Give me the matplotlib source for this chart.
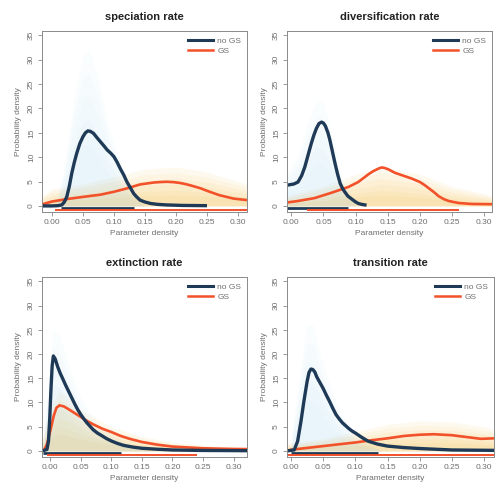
import matplotlib
matplotlib.use("Agg")
import matplotlib.pyplot as plt
from matplotlib.lines import Line2D

plt.rcParams['font.family'] = ['Liberation Sans', 'DejaVu Sans']

NAVY = '#1f3a56'
RED = '#f2512a'
HAZE_BLUE = '#a8d8f2'
HAZE_ORANGE = '#f7bf3e'
GREY = '#6f6f6f'

titles = ['speciation rate', 'diversification rate', 'extinction rate', 'transition rate']

# no GS curves
sp_nogs_x = [-0.016, 0.0, 0.01, 0.016, 0.02, 0.024, 0.028, 0.032, 0.036, 0.04, 0.045, 0.05,
             0.054, 0.058, 0.062, 0.067, 0.072, 0.078, 0.084, 0.089, 0.095,
             0.10, 0.105, 0.11, 0.116, 0.121, 0.127, 0.132, 0.137, 0.142, 0.15, 0.159, 0.17,
             0.185, 0.21, 0.25]
sp_nogs_y = [0.0, 0.0, 0.05, 0.2, 0.8, 1.9, 4.0, 6.7, 8.9, 10.8, 12.8, 14.2,
             15.0, 15.4, 15.3, 14.9, 14.1, 13.2, 12.3, 11.5, 10.8,
             10.1, 9.0, 7.7, 6.3, 4.9, 3.6, 2.5, 1.8, 1.2, 0.8, 0.5, 0.32,
             0.2, 0.1, 0.05]
div_nogs_x = [-0.0067, 0.004, 0.0104, 0.016, 0.021, 0.026, 0.031, 0.035, 0.039, 0.043, 0.047,
              0.05, 0.053, 0.057, 0.06, 0.064, 0.068, 0.072, 0.076, 0.08, 0.083,
              0.088, 0.094, 0.099, 0.104, 0.11, 0.117]
div_nogs_y = [4.25, 4.5, 4.9, 6.2, 8.0, 10.4, 12.8, 14.5, 15.9, 16.9, 17.2,
              17.0, 16.4, 15.0, 13.5, 11.1, 8.7, 6.5, 4.6, 3.5, 2.9,
              2.0, 1.4, 0.9, 0.5, 0.3, 0.15]
ext_nogs_x = [-0.0136, -0.0055, -0.003, -0.001, 0.001, 0.003, 0.005, 0.008, 0.012, 0.016,
              0.02, 0.025, 0.03, 0.035, 0.04, 0.045, 0.05, 0.055, 0.06, 0.065, 0.07,
              0.077, 0.085, 0.092, 0.10, 0.11, 0.12, 0.135, 0.15, 0.175, 0.20, 0.25, 0.322]
ext_nogs_y = [0.0, 0.3, 2.0, 6.5, 12.5, 17.5, 19.6, 19.0, 17.4, 16.1,
              15.0, 13.6, 12.3, 11.0, 9.7, 8.5, 7.5, 6.6, 5.8, 5.1, 4.4,
              3.7, 3.1, 2.55, 2.05, 1.55, 1.15, 0.8, 0.55, 0.35, 0.2, 0.1, 0.05]
tr_nogs_x = [-0.0062, 0.005, 0.0103, 0.0155, 0.02, 0.025, 0.028, 0.031, 0.034, 0.037, 0.04,
             0.045, 0.05, 0.055, 0.06, 0.065, 0.07, 0.075, 0.08, 0.085, 0.09, 0.095,
             0.10, 0.11, 0.12, 0.135, 0.15, 0.175, 0.20, 0.25, 0.3155]
tr_nogs_y = [0.0, 0.2, 2.0, 6.1, 10.2, 14.3, 16.2, 16.9, 16.8, 16.3, 15.3,
             14.1, 12.9, 11.5, 10.2, 8.8, 7.5, 6.6, 5.8, 5.2, 4.6, 4.1,
             3.7, 2.8, 2.0, 1.4, 1.0, 0.7, 0.5, 0.2, 0.12]

# GS curves
sp_gs_x = [-0.016, 0.0, 0.024, 0.05, 0.078, 0.10, 0.121, 0.142, 0.164, 0.175, 0.185, 0.196,
           0.207, 0.218, 0.228, 0.24, 0.25, 0.27, 0.293, 0.3145]
sp_gs_y = [0.3, 0.9, 1.4, 1.85, 2.3, 2.9, 3.6, 4.4, 4.8, 4.9, 4.95, 4.88,
           4.7, 4.4, 4.05, 3.6, 3.1, 2.2, 1.5, 1.2]
div_gs_x = [-0.0067, 0.01, 0.036, 0.0625, 0.089, 0.104, 0.112, 0.12, 0.127, 0.133, 0.137, 0.141,
            0.146, 0.151, 0.161, 0.172, 0.1875, 0.2, 0.207, 0.214, 0.222, 0.229, 0.237,
            0.245, 0.26, 0.28, 0.312]
div_gs_y = [0.7, 1.0, 1.6, 2.7, 3.9, 4.9, 5.7, 6.5, 7.1, 7.5, 7.75, 7.9,
            7.75, 7.5, 6.8, 6.3, 5.6, 4.9, 4.3, 3.6, 2.8, 2.0, 1.4,
            1.0, 0.6, 0.4, 0.35]
ext_gs_x = [-0.011, -0.0055, 0.0, 0.0055, 0.01, 0.015, 0.022, 0.03, 0.04, 0.05, 0.06, 0.07,
            0.085, 0.10, 0.115, 0.13, 0.15, 0.175, 0.20, 0.25, 0.30, 0.322]
ext_gs_y = [0.0, 1.4, 4.1, 7.2, 8.9, 9.4, 9.2, 8.6, 7.8, 7.0, 6.2, 5.5,
            4.6, 3.9, 3.1, 2.5, 1.85, 1.3, 0.9, 0.55, 0.4, 0.38]
tr_gs_x = [-0.0062, 0.0103, 0.05, 0.10, 0.125, 0.15, 0.176, 0.20, 0.222, 0.25, 0.274, 0.295, 0.3155]
tr_gs_y = [0.1, 0.4, 1.0, 1.75, 2.2, 2.6, 3.1, 3.35, 3.45, 3.25, 2.85, 2.5, 2.6]

# upper envelopes of the posterior sample haze
sp_haze_b_x = [0.005, 0.02, 0.035, 0.05, 0.06, 0.075, 0.09, 0.11, 0.13, 0.15]
sp_haze_b_y = [0, 8, 22, 31, 32, 26, 17, 9, 3, 0]
sp_haze_o_x = [-0.016, 0.0, 0.05, 0.10, 0.15, 0.20, 0.25, 0.30, 0.3145]
sp_haze_o_y = [2, 3.5, 4.5, 6, 7.5, 8, 7, 5, 4.5]
div_haze_b_x = [-0.0067, 0.01, 0.025, 0.04, 0.05, 0.065, 0.08, 0.1]
div_haze_b_y = [7, 10, 17, 22, 21, 14, 5, 0]
div_haze_o_x = [-0.0067, 0.05, 0.10, 0.14, 0.20, 0.25, 0.30, 0.312]
div_haze_o_y = [2, 4, 6.5, 8, 6.5, 4, 2.5, 2]
ext_haze_b_x = [-0.0136, -0.004, 0.004, 0.015, 0.03, 0.05, 0.08, 0.12, 0.16]
ext_haze_b_y = [0, 14, 25, 24, 18, 11, 5, 2, 0]
ext_haze_o_x = [-0.0136, 0.0, 0.015, 0.03, 0.05, 0.10, 0.15, 0.20, 0.25, 0.322]
ext_haze_o_y = [2, 9, 12.5, 11, 8.5, 5, 3, 1.8, 1.2, 0.8]
tr_haze_b_x = [-0.002, 0.012, 0.024, 0.034, 0.05, 0.07, 0.10, 0.14]
tr_haze_b_y = [0, 14, 26, 26, 18, 10, 3, 0]
tr_haze_o_x = [-0.0062, 0.05, 0.10, 0.15, 0.20, 0.25, 0.30, 0.3155]
tr_haze_o_y = [1.5, 2.5, 4, 5.5, 6.2, 6, 5, 4.5]

# credible interval bars (start, end)
sp_ci = [(0.015, 0.132), (0.005, 0.3145)]
div_ci = [(-0.0067, 0.088), (0.025, 0.26)]
ext_ci = [(-0.012, 0.115), (-0.005, 0.24)]
tr_ci = [(0.0, 0.135), (-0.0062, 0.3155)]

xlims = [(-0.016, 0.3145), (-0.0067, 0.312), (-0.0136, 0.322), (-0.0062, 0.3155)]

panels = [
    (sp_nogs_x, sp_nogs_y, sp_gs_x, sp_gs_y, sp_haze_b_x, sp_haze_b_y, sp_haze_o_x, sp_haze_o_y, sp_ci),
    (div_nogs_x, div_nogs_y, div_gs_x, div_gs_y, div_haze_b_x, div_haze_b_y, div_haze_o_x, div_haze_o_y, div_ci),
    (ext_nogs_x, ext_nogs_y, ext_gs_x, ext_gs_y, ext_haze_b_x, ext_haze_b_y, ext_haze_o_x, ext_haze_o_y, ext_ci),
    (tr_nogs_x, tr_nogs_y, tr_gs_x, tr_gs_y, tr_haze_b_x, tr_haze_b_y, tr_haze_o_x, tr_haze_o_y, tr_ci),
]

# axes boxes in pixels: left, top, right, bottom
W, H = 496, 488
boxes = [(42, 31, 247, 212), (287, 31, 492, 212), (42, 277, 247, 457), (287, 277, 494, 457)]

fig = plt.figure(figsize=(W / 100, H / 100), dpi=100)

for i, (title, p) in enumerate(zip(titles, panels)):
    nx, ny, gx, gy, hbx, hby, hox, hoy, ci = p
    l, t, r, b = boxes[i]
    ax = fig.add_axes([l / W, 1 - b / H, (r - l) / W, (b - t) / H])

    for f in (1.0, 0.85, 0.7, 0.55, 0.4, 0.28):
        ax.fill_between(hox, 0, [v * f for v in hoy], color=HAZE_ORANGE, alpha=0.08, lw=0)
    for f in (1.0, 0.85, 0.7, 0.55, 0.4):
        ax.fill_between(hbx, 0, [v * f for v in hby], color=HAZE_BLUE, alpha=0.05, lw=0)

    ax.plot(gx, gy, color=RED, lw=1.9, solid_capstyle='butt', solid_joinstyle='round')
    ax.plot(nx, ny, color=NAVY, lw=2.4, solid_capstyle='butt', solid_joinstyle='round')
    ax.plot(ci[0], [-0.35, -0.35], color=NAVY, lw=2.0, solid_capstyle='butt')
    ax.plot(ci[1], [-0.85, -0.85], color=RED, lw=1.4, solid_capstyle='butt')

    ax.set_xlim(*xlims[i])
    ax.set_ylim(-1.25, 35.9)
    ax.set_xticks([0.0, 0.05, 0.10, 0.15, 0.20, 0.25, 0.30])
    ax.set_xticklabels(['0.00', '0.05', '0.10', '0.15', '0.20', '0.25', '0.30'])
    ax.set_yticks([0, 5, 10, 15, 20, 25, 30, 35])
    for lab in ax.get_yticklabels():
        lab.set_rotation(90)
        lab.set_va('center')
    ax.tick_params(direction='out', length=3, width=0.6, colors='#888888',
                   labelcolor=GREY, labelsize=6, pad=2)
    for s in ax.spines.values():
        s.set_color('#8a8a8a')
        s.set_linewidth(0.7)

    ax.set_title(title, fontsize=8, fontweight='bold', color='#222222', pad=8)
    ax.set_xlabel('Parameter density', fontsize=6, color=GREY, labelpad=3)
    ax.set_ylabel('Probability density', fontsize=6, color=GREY, labelpad=4)

    handles = [Line2D([], [], color=NAVY, lw=2.2), Line2D([], [], color=RED, lw=1.8)]
    ax.legend(handles, ['no GS', 'GS'], loc='upper right', frameon=False, fontsize=6,
              labelcolor=GREY, handlelength=3.0, handletextpad=0.5, borderaxespad=0.3,
              labelspacing=0.25)

fig.savefig('out.png', dpi=100)
plt.close()
